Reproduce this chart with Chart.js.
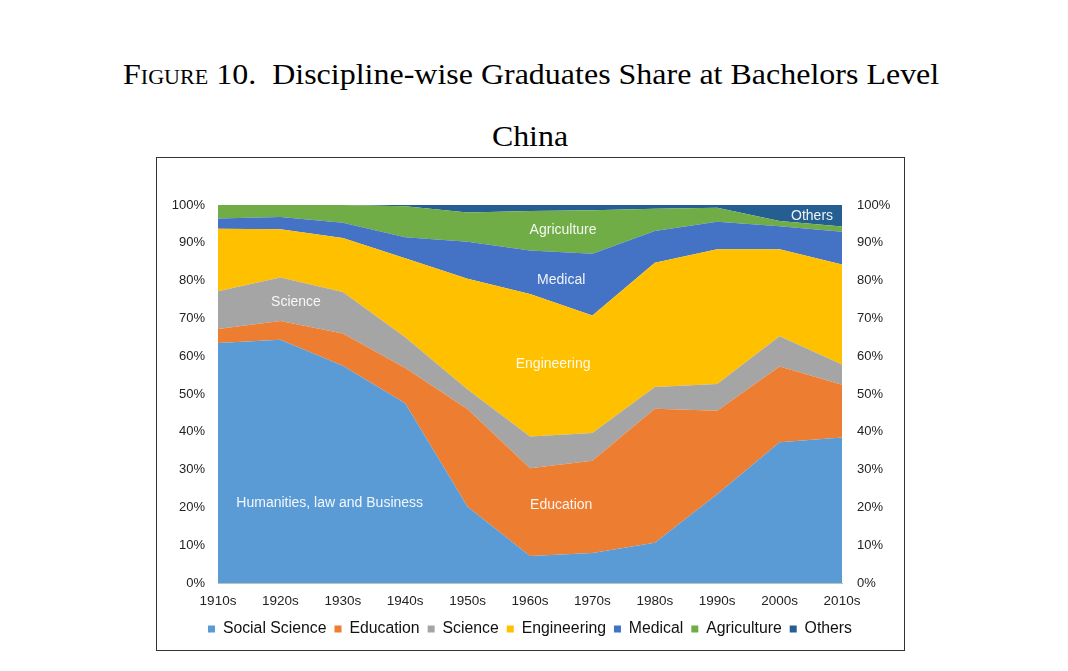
<!DOCTYPE html>
<html><head><meta charset="utf-8">
<script src="https://cdn.jsdelivr.net/npm/chart.js@4.4.1/dist/chart.umd.min.js"></script>
<style>
html,body{margin:0;padding:0;background:#fff;width:1068px;height:671px;overflow:hidden;}
#title{position:absolute;left:123px;top:56px;font-family:"Liberation Serif",serif;font-size:29px;line-height:36px;white-space:nowrap;color:#000;transform:scaleX(1.103);transform-origin:0 0}
#sub{position:absolute;left:0;width:1060px;text-align:center;top:118px;font-family:"Liberation Serif",serif;font-size:29px;line-height:36px;color:#000;transform:scaleX(1.1);transform-origin:530px 0}
#frame{position:absolute;left:156px;top:157px;width:747px;height:492px;border:1px solid #333;}
#c{position:absolute;left:0;top:0;width:1068px;height:671px}
</style></head><body>
<div id="title"><span style="font-variant:small-caps">Figure 10.</span>&nbsp; Discipline-wise Graduates Share at Bachelors Level</div>
<div id="sub">China</div>
<div id="frame"></div>
<canvas id="c" width="1068" height="671"></canvas>
<script>
const categories = ['1910s','1920s','1930s','1940s','1950s','1960s','1970s','1980s','1990s','2000s','2010s'];
const socialScience = [63.5,64.4,57.5,47.6,20.2,7.2,8.0,10.7,23.5,37.3,38.5];
const education     = [3.7,4.9,8.5,9.3,25.8,23.2,24.4,35.4,22.1,20.0,14.0];
const science       = [10.0,11.5,11.0,8.1,5.2,8.4,7.3,5.8,7.1,8.0,5.3];
const engineering   = [16.5,12.8,14.3,20.9,29.3,37.7,31.1,32.8,35.6,23.0,26.5];
const medical       = [2.7,3.2,4.0,5.6,9.8,11.5,16.3,8.4,7.3,6.1,8.6];
const agriculture   = [3.6,3.2,4.7,8.2,7.7,10.4,11.5,5.9,3.7,1.4,1.4];
const others        = [0,0,0,0.3,2.0,1.6,1.4,1.0,0.7,4.2,5.7];
const seriesNames = ['Social Science','Education','Science','Engineering','Medical','Agriculture','Others'];
const yTicks = [0,10,20,30,40,50,60,70,80,90,100];

const colors = ['#5B9BD5','#ED7D31','#A5A5A5','#FFC000','#4472C4','#70AD47','#255E91'];
const seriesData = [socialScience,education,science,engineering,medical,agriculture,others];

const regionLabels = [
  {text:'Humanities, law and Business', x:1.79, y:21.2},
  {text:'Science', x:1.25, y:74.3},
  {text:'Engineering', x:5.37, y:57.9},
  {text:'Education', x:5.5, y:20.6},
  {text:'Medical', x:5.5, y:80.2},
  {text:'Agriculture', x:5.53, y:93.4},
  {text:'Others', x:9.52, y:97.1}
];

const labelPlugin = {
  id:'regionLabels',
  afterDatasetsDraw(chart){
    const {ctx, scales:{x,y}} = chart;
    ctx.save();
    ctx.font = '14px "Liberation Sans", Arial, sans-serif';
    ctx.fillStyle = 'rgba(255,255,255,0.92)';
    ctx.textAlign = 'center';
    ctx.textBaseline = 'middle';
    regionLabels.forEach(l=>{
      ctx.fillText(l.text, x.getPixelForValue(l.x), y.getPixelForValue(l.y));
    });
    ctx.restore();
  }
};

const tickFont = {family:'"Liberation Sans", Arial, sans-serif', size:13};

new Chart(document.getElementById('c'), {
  type:'line',
  data:{
    labels:categories,
    datasets: seriesNames.map((n,i)=>({
      label:n,
      data:seriesData[i],
      backgroundColor:colors[i],
      borderColor:colors[i],
      borderWidth:0,
      pointRadius:0,
      pointHitRadius:0,
      tension:0,
      fill: i===0 ? 'origin' : '-1'
    }))
  },
  options:{
    responsive:false,
    animation:false,
    devicePixelRatio:1,
    layout:{padding:{left:168,right:176,top:205,bottom:24}},
    plugins:{
      tooltip:{enabled:false},
      title:{display:false},
      legend:{
        position:'bottom',
        labels:{
          boxWidth:7, boxHeight:7, padding:8,
          color:'#111',
          font:{family:'"Liberation Sans", Arial, sans-serif', size:15.8}
        }
      }
    },
    scales:{
      x:{
        type:'category',
        offset:false,
        grid:{display:false, drawTicks:false},
        border:{display:true,color:'#bfbfbf',width:1},
        ticks:{font:{family:'"Liberation Sans", Arial, sans-serif', size:13.5}, color:'#222', padding:10, maxRotation:0, autoSkip:false},
        afterFit(s){ s.height = 30; }
      },
      y:{
        stacked:true,
        min:0,max:100,
        grid:{display:false, drawTicks:false},
        border:{display:false},
        afterBuildTicks(s){ s.ticks = yTicks.map(v=>({value:v})); },
        ticks:{font:tickFont, color:'#222', padding:13, callback:v=>v+'%'},
        afterFit(s){ s.width = 50; }
      },
      y2:{
        position:'right',
        min:0,max:100,
        grid:{display:false, drawTicks:false},
        border:{display:false},
        afterBuildTicks(s){ s.ticks = yTicks.map(v=>({value:v})); },
        ticks:{font:tickFont, color:'#222', padding:15, callback:v=>v+'%'},
        afterFit(s){ s.width = 50; }
      }
    }
  },
  plugins:[labelPlugin]
});
</script>
</body></html>
